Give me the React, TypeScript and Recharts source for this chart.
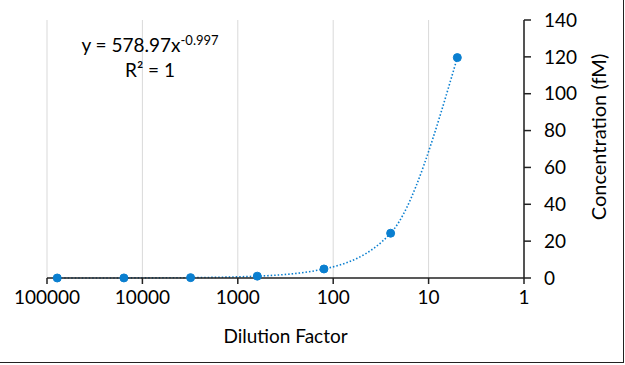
import React from 'react';
import {
  ComposedChart,
  Line,
  XAxis,
  YAxis,
  CartesianGrid,
} from 'recharts';

// dilution factors (5-fold series) and measured concentration in fM
const dilutions = [78125, 15625, 3125, 625, 125, 25, 5];
const concentrations = [0.008, 0.04, 0.2, 1.0, 4.9, 24.3, 119.6];
const xTicks = [1, 10, 100, 1000, 10000, 100000];
const yTicks = [0, 20, 40, 60, 80, 100, 120, 140];

const data = dilutions.map((d, i) => ({ dilution: d, conc: concentrations[i] }));

const FONT = 'Lato, "Open Sans", sans-serif';
const BLUE = '#0a7fd0';
const TEXT = '#000';
const FS = 19;

const YTitle = () => (
  <text
    x={598}
    y={137}
    transform="rotate(-90 598 137)"
    textAnchor="middle"
    dominantBaseline="central"
    fill={TEXT}
    fontSize={20}
    fontFamily={FONT}
  >
    Concentration (fM)
  </text>
);

export default function App() {
  return (
    <div
      style={{
        position: 'fixed',
        left: 0,
        top: 0,
        width: 625,
        height: 365,
        background: '#fff',
        fontFamily: FONT,
        overflow: 'hidden',
      }}
    >
      <div
        style={{
          position: 'absolute',
          left: 0,
          top: 0,
          width: 624,
          height: 363,
          borderRight: '1.5px solid #222',
          borderBottom: '1.5px solid #222',
          boxSizing: 'border-box',
        }}
      />
      <ComposedChart
        width={625}
        height={365}
        data={data}
        margin={{ top: 20, right: 0, left: 47, bottom: 0 }}
      >
        <CartesianGrid horizontal={false} stroke="#d9d9d9" strokeWidth={1} />
        <XAxis
          dataKey="dilution"
          type="number"
          scale="log"
          domain={[1, 100000]}
          ticks={xTicks}
          reversed
          allowDataOverflow
          height={87}
          stroke="#222"
          strokeWidth={1.5}
          tickSize={6}
          tick={{ fill: TEXT, fontSize: FS, fontFamily: FONT, dy: 5 }}
          label={{
            value: 'Dilution Factor',
            position: 'insideBottom',
            offset: 22,
            fill: TEXT,
            fontSize: FS,
            fontFamily: FONT,
          }}
        />
        <YAxis
          orientation="right"
          type="number"
          domain={[0, 140]}
          ticks={yTicks}
          width={101}
          stroke="#222"
          strokeWidth={1.5}
          tickSize={7}
          tick={{ fill: TEXT, fontSize: FS, fontFamily: FONT, dx: 11 }}
          label={<YTitle />}
        />
        <Line
          dataKey="conc"
          type="monotone"
          stroke={BLUE}
          strokeWidth={1.6}
          strokeDasharray="1.5 2"
          dot={false}
          activeDot={false}
          isAnimationActive={false}
        />
        <Line
          dataKey="conc"
          stroke="none"
          dot={{ r: 4, fill: BLUE, stroke: BLUE, strokeWidth: 1 }}
          activeDot={false}
          isAnimationActive={false}
        />
      </ComposedChart>
      <div
        style={{
          position: 'absolute',
          left: 58,
          top: 32,
          width: 184,
          textAlign: 'center',
          fontSize: FS,
          color: TEXT,
          lineHeight: '25px',
        }}
      >
        <div>
          y = 578.97x<sup style={{ fontSize: 13, verticalAlign: 'top', position: 'relative', top: -4 }}>-0.997</sup>
        </div>
        <div>
          R² = 1
        </div>
      </div>
    </div>
  );
}
